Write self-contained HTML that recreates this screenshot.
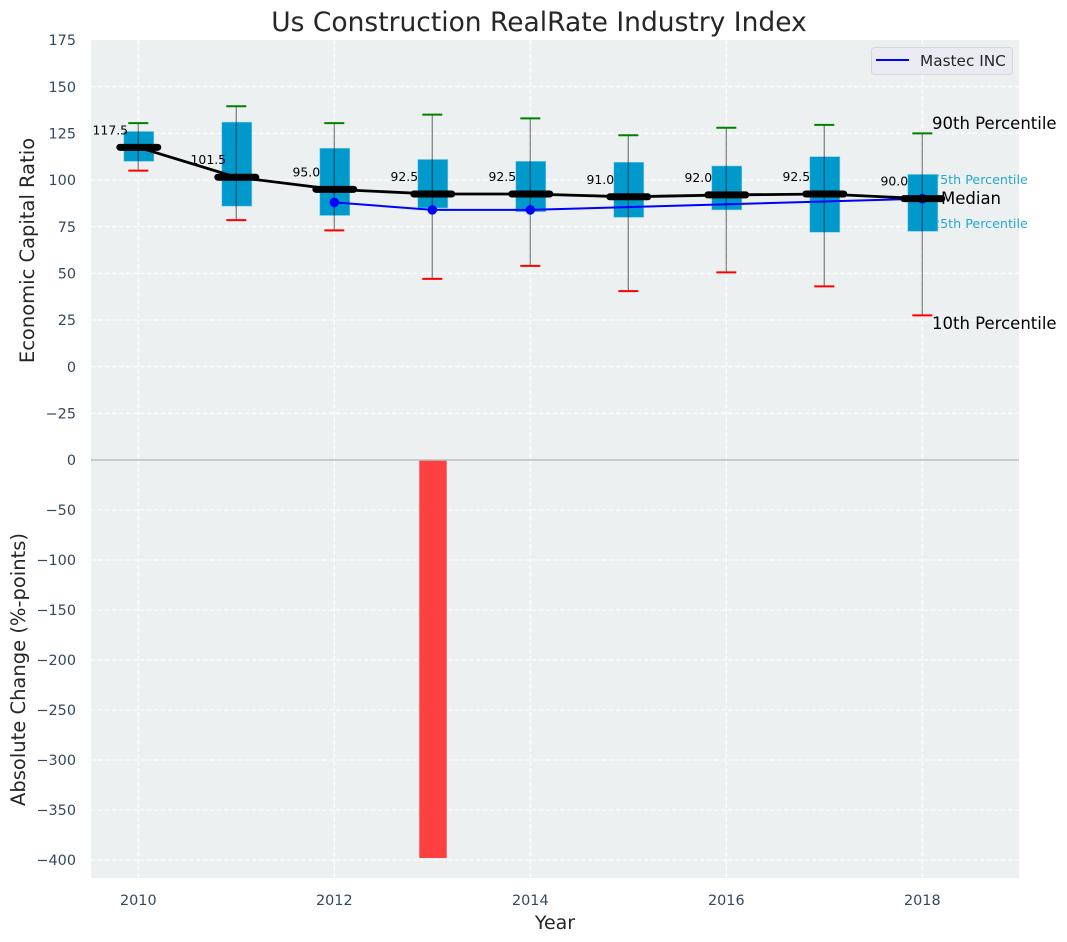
<!DOCTYPE html>
<html>
<head>
<meta charset="utf-8">
<style>
html,body{margin:0;padding:0;background:#fff;}
svg{display:block;}
text{font-family:"DejaVu Sans","Liberation Sans",sans-serif;}
</style>
</head>
<body>
<svg id="chart" xmlns="http://www.w3.org/2000/svg" width="1067" height="942" viewBox="0 0 1067 942">
  <text x="539" y="31" font-size="26.5" text-anchor="middle" fill="#262626">Us Construction RealRate Industry Index</text>
  <rect x="91" y="40" width="928" height="420" fill="#ecf0f1"/>
  <rect x="91" y="460" width="928" height="418" fill="#ecf0f1"/>
  <g id="grid"></g>
  <text x="932" y="184" font-size="12.7" fill="#0099cc" fill-opacity="0.85">75th Percentile</text>
  <text x="932" y="228" font-size="12.7" fill="#0099cc" fill-opacity="0.85">25th Percentile</text>
  <g id="marks"></g>
  <text x="932" y="129" font-size="16.5" fill="#000">90th Percentile</text>
  <text x="941" y="204" font-size="16.5" fill="#000">Median</text>
  <text x="932" y="329" font-size="16.5" fill="#000">10th Percentile</text>
  <g id="ticks"></g>
  <text transform="translate(34,250.5) rotate(-90)" font-size="19.5" text-anchor="middle" fill="#262626">Economic Capital Ratio</text>
  <text transform="translate(25,669.5) rotate(-90)" font-size="19.5" text-anchor="middle" fill="#262626">Absolute Change (%-points)</text>
  <text x="555" y="929" font-size="19" text-anchor="middle" fill="#262626">Year</text>
  <g>
    <rect x="871.5" y="47.5" width="141" height="27" rx="3" fill="#eaeaf2" stroke="#d5d5da" stroke-width="1"/>
    <line x1="876" y1="60" x2="909" y2="60" stroke="#0000ff" stroke-width="2"/>
    <text x="920" y="66" font-size="15.3" fill="#262626">Mastec INC</text>
  </g>
</svg>
<script>
var years = [2010, 2011, 2012, 2013, 2014, 2015, 2016, 2017, 2018];
var p90 = [130.5, 139.5, 130.5, 135, 133, 124, 128, 129.5, 125];
var p75 = [126, 131, 117, 111, 110, 109.5, 107.5, 112.5, 103];
var medians = [117.5, 101.5, 95, 92.5, 92.5, 91, 92, 92.5, 90];
var p25 = [110, 86, 81, 85, 83, 80, 84, 72, 72.5];
var p10 = [105, 78.5, 73, 47, 54, 40.5, 50.5, 43, 27.5];
var company = [null, null, 88, 84, 84, null, null, null, 90];
var changes = [null, null, null, -398, null, null, null, null, null];
var topTicks = [175, 150, 125, 100, 75, 50, 25, 0, -25];
var bottomTicks = [0, -50, -100, -150, -200, -250, -300, -350, -400];
var xTicks = [2010, 2012, 2014, 2016, 2018];

var NS = 'http://www.w3.org/2000/svg';
function sx(v) { return 138.3 + (v - 2010) * 98; }
function syTop(v) { return 366.67 - v * (420 / 225); }
function syBot(v) { return 460 - v; }
function make(parent, tag, props, content) {
  var el = document.createElementNS(NS, tag);
  for (var k in props) { el.setAttribute(k, props[k]); }
  if (content !== undefined) { el.textContent = content; }
  parent.appendChild(el);
  return el;
}
function fmt(v) { return v < 0 ? '\u2212' + Math.abs(v) : String(v); }

var grid = document.getElementById('grid');
var marks = document.getElementById('marks');
var ticks = document.getElementById('ticks');
var gridStyle = { stroke: '#ffffff', 'stroke-width': 1.1, 'stroke-dasharray': '4.5 2.5', fill: 'none' };
function gridLine(x1, y1, x2, y2) {
  var props = { x1: x1, y1: y1, x2: x2, y2: y2 };
  for (var k in gridStyle) { props[k] = gridStyle[k]; }
  return make(grid, 'line', props);
}

topTicks.forEach(function (t) {
  var y = syTop(t);
  if (t !== 175) {
    var g = gridLine(91, y, 1019, y);
    
    
  }
  var l = make(ticks, 'text', { x: 76, y: y + 5.2, 'font-size': 14.4, 'text-anchor': 'end', fill: '#34495e' }, fmt(t));
  
  
});
bottomTicks.forEach(function (t) {
  var y = syBot(t);
  if (t !== 0) {
    var g = gridLine(91, y, 1019, y);
    
    
  }
  var l = make(ticks, 'text', { x: 76, y: y + 5.2, 'font-size': 14.4, 'text-anchor': 'end', fill: '#34495e' }, fmt(t));
  
  
});
xTicks.forEach(function (t) {
  var x = sx(t);
  var g1 = gridLine(x, 40, x, 460);
  
  
  var g2 = gridLine(x, 460, x, 878);
  
  
  var l = make(ticks, 'text', { x: x, y: 905, 'font-size': 14.4, 'text-anchor': 'middle', fill: '#34495e' }, String(t));
  
  
});

// absolute change bars
changes.forEach(function (v, i) {
  if (v === null) { return; }
  var x = sx(years[i]);
  var y0 = syBot(0), y1 = syBot(v);
  var r = make(marks, 'rect', { x: x - 13, y: Math.min(y0, y1), width: 27.4, height: Math.abs(y1 - y0), fill: '#ff4040' });
  
  
});
var zero = make(marks, 'line', { x1: 91, y1: syBot(0), x2: 1019, y2: syBot(0), stroke: '#bdbdbd', 'stroke-width': 1.4 });



// boxes, whiskers and caps
years.forEach(function (yr, i) {
  var x = sx(yr);
  var box = make(marks, 'rect', { x: x - 14.5, y: syTop(p75[i]), width: 30, height: syTop(p25[i]) - syTop(p75[i]), fill: '#0099cc', stroke: '#7fcbe5', 'stroke-width': 0.6 });
  
  
  var w = make(marks, 'line', { x1: x, y1: syTop(p90[i]), x2: x, y2: syTop(p10[i]), stroke: '#000', 'stroke-opacity': 0.42, 'stroke-width': 1.4 });
  
  
  var capTop = make(marks, 'line', { x1: x - 10, y1: syTop(p90[i]), x2: x + 10, y2: syTop(p90[i]), stroke: '#008000', 'stroke-width': 2 });
  
  
  var capBot = make(marks, 'line', { x1: x - 10, y1: syTop(p10[i]), x2: x + 10, y2: syTop(p10[i]), stroke: '#ff0000', 'stroke-width': 2 });
  
  
});

// company line
var companyPts = [];
company.forEach(function (v, i) {
  if (v !== null) { companyPts.push(sx(years[i]) + ',' + syTop(v)); }
});
var cl = make(marks, 'polyline', { points: companyPts.join(' '), fill: 'none', stroke: '#0000ff', 'stroke-width': 2 });


company.forEach(function (v, i) {
  if (v === null) { return; }
  var c = make(marks, 'circle', { cx: sx(years[i]), cy: syTop(v), r: 4.8, fill: '#0000ff' });
  
  
});

// median line and thick median bars
var medianPts = medians.map(function (v, i) { return sx(years[i]) + ',' + syTop(v); });
var ml = make(marks, 'polyline', { points: medianPts.join(' '), fill: 'none', stroke: '#000', 'stroke-width': 2.8 });


medians.forEach(function (v, i) {
  var x = sx(years[i]);
  var y = syTop(v);
  var m = make(marks, 'line', { x1: x - 18.5, y1: y, x2: x + 19.5, y2: y, stroke: '#000', 'stroke-width': 7, 'stroke-linecap': 'round' });
  
  
  var t = make(marks, 'text', { x: x - 28, y: y - 13, 'font-size': 12.4, 'text-anchor': 'middle', fill: '#000' }, v.toFixed(1));
  
  
});
</script>
</body>
</html>
